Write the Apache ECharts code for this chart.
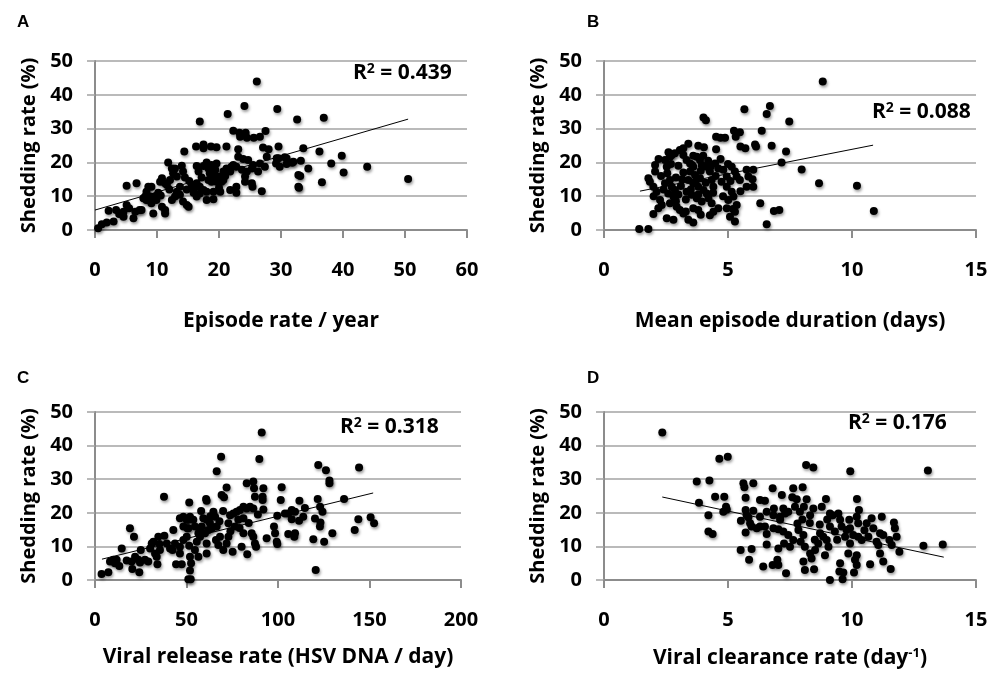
<!DOCTYPE html>
<html>
<head>
<meta charset="utf-8">
<script src="https://cdn.jsdelivr.net/npm/echarts@6/dist/echarts.min.js"></script>
<style>html,body{margin:0;padding:0;background:#fff}#chart{width:991px;height:675px}</style>
</head>
<body>
<div id="chart"></div>
<script>
const chart = echarts.init(document.getElementById('chart'));

// A: episode rate / year vs shedding rate
const pointsA = [
    [0.5,0.5],[1.1,1.7],[1.9,2.2],[3.0,2.5],[2.2,5.7],[3.4,5.9],[3.9,4.7],[4.6,3.9],[4.6,5.4],[5.1,7.4],
    [5.5,6.4],[6.2,3.5],[6.5,5.4],[7.2,5.9],[7.5,5.9],[5.1,13.1],[6.7,13.8],[7.8,9.4],[8.3,8.9],
    [8.6,12.8],[9.1,12.8],[8.3,11.3],[8.1,9.9],[8.9,9.9],[9.7,9.9],[8.6,8.9],[9.9,8.9],[9.1,7.9],[10.8,6.9],
    [11.3,5.9],[9.4,4.9],[11.3,4.9],[10.5,14.3],[10.8,15.3],[11.3,13.8],[10.2,11.0],[10.6,10.2],
    [11.8,20.0],[12.4,18.2],[12.9,18.2],[12.6,16.8],[13.2,15.8],[12.1,14.8],[11.6,13.3],[13.7,12.8],[13.2,11.3],
    [13.7,10.4],[12.9,9.9],[12.4,8.9],[14.2,8.4],[14.8,7.4],[15.1,6.9],[14.0,19.0],[14.2,17.3],[15.2,14.5],
    [15.6,13.3],[14.8,12.0],[15.9,11.0],[14.4,23.2],[12.0,12.0],[14.5,15.5],
    [16.3,24.7],[17.5,25.3],[17.5,24.2],[18.7,24.7],[19.6,24.5],[21.2,24.7],[16.9,32.1],
    [16.4,18.9],[16.7,17.3],[17.5,18.9],[18.3,18.2],[18.8,19.2],[19.6,19.7],[19.4,17.8],[18.5,16.8],[19.1,15.8],
    [19.9,15.8],[18.3,14.8],[18.8,14.3],[19.6,14.3],[20.4,14.3],[20.7,14.8],[16.4,13.8],[16.9,12.8],[15.9,12.3],
    [17.5,11.8],[18.0,11.3],[19.1,11.3],[20.2,11.3],[16.4,9.9],[16.9,10.8],[18.0,8.9],[19.1,9.1],[21.2,18.2],
    [22.0,18.7],[21.8,17.3],[22.3,19.2],[20.7,17.3],[17.2,15.5],[18.0,20.0],[20.0,12.5],[21.0,16.0],
    [22.3,29.4],[23.3,28.8],[24.3,28.8],[23.4,27.6],[24.5,27.3],[25.6,27.3],[26.6,27.6],[27.5,29.3],
    [24.1,36.7],[21.4,34.3],[26.1,43.9],[29.4,35.8],[32.6,32.7],[36.9,33.2],
    [29.6,24.7],[27.1,24.4],[28.0,23.9],[23.1,23.9],
    [23.1,21.7],[23.9,21.0],[24.7,20.7],[25.5,19.2],[26.6,19.7],[27.4,18.7],[22.8,18.7],[23.7,17.8],[24.5,17.3],
    [25.3,18.2],[29.3,21.2],[29.8,18.7],[30.9,21.2],[30.9,19.5],[32.0,20.2],[32.8,16.3],[32.8,12.8],[26.9,11.5],
    [25.3,13.8],[25.4,12.8],[24.2,15.8],[24.2,14.3],[22.8,12.8],[22.8,11.0],[21.8,11.8],[26.3,17.3],[27.7,21.7],
    [29.2,19.7],[29.6,21.2],[30.6,21.5],[31.8,19.9],[33.2,20.5],[34.4,18.2],[33.6,24.2],[36.2,23.2],[39.8,22.0],
    [38.1,19.7],[40.1,17.0],[43.9,18.7],[33.1,16.0],[36.6,14.1],[32.9,12.5],[50.5,15.1]
];
const trendA = [[0, 5.9], [50.5, 32.8]];

// B: mean episode duration vs shedding rate
const pointsB = [
    [1.42,0.3],[1.79,0.3],[2.06,19.2],[2.06,17.3],[1.79,15.3],[1.85,14.3],[1.99,12.8],[2.12,11.3],[2.26,8.9],
    [2.33,7.4],[2.19,6.4],[1.99,4.7],[2.53,3.5],[2.80,3.0],[3.40,3.0],[3.60,2.2],[3.20,4.9],[2.46,20.7],
    [2.66,21.7],[2.86,22.7],[3.06,23.7],[3.20,22.2],[2.53,18.7],[2.55,16.8],[2.66,14.8],[2.46,13.8],[2.73,12.8],
    [2.86,11.8],[2.59,10.8],[2.80,9.9],[2.66,7.9],[2.93,6.9],[3.06,5.9],[3.33,20.7],[3.47,19.7],[3.60,18.7],
    [3.74,21.7],[3.87,20.7],[3.94,19.2],[3.47,17.3],[3.67,16.3],[3.87,15.3],[3.40,14.8],[3.60,13.8],[3.80,12.8],
    [4.01,11.8],[3.33,11.3],[3.53,10.4],[3.74,9.4],[3.94,8.4],[4.14,10.8],[4.21,9.4],[4.34,7.9],[3.60,6.4],
    [3.80,5.9],[4.14,18.7],[4.27,17.3],[4.34,14.8],[4.41,12.8],[4.48,19.7],[4.61,18.2],[4.81,17.8],[4.95,15.8],
    [4.74,14.3],[4.95,12.8],[5.15,11.3],[5.22,9.9],[5.01,8.9],[5.15,18.7],[5.28,17.3],[5.35,15.8],[5.48,14.8],
    [5.75,12.8],[6.02,12.8],[5.75,17.8],[6.02,17.8],[5.82,15.8],[5.99,15.0],[4.61,6.4],[4.95,6.4],[5.28,5.4],
    [5.35,7.4],[5.28,2.5],[5.08,3.9],[4.27,4.4],[4.41,5.4],
    [2.3,16.0],[2.4,12.0],[2.9,15.5],[3.0,19.0],[3.1,13.0],[3.2,17.0],[3.3,9.0],[3.5,12.0],[3.6,22.0],
    [3.7,14.5],[3.9,17.5],[4.0,22.0],[4.1,14.0],[4.2,20.5],[3.0,10.5],[2.9,8.5],[3.8,10.5],[4.4,11.0],
    [4.5,16.0],[2.2,21.0],[2.6,23.0],[3.4,25.5],[3.3,5.5],[3.9,4.5],[2.0,10.0],[4.7,21.0],[5.0,19.5],
    [5.1,14.5],[4.8,10.0],[5.5,11.5],[5.2,6.2],[3.55,19.2],[2.7,19.5],[3.15,15.0],[4.3,18.8],
    [4.01,33.3],[4.11,32.5],[5.66,35.7],[5.24,29.4],[5.48,28.9],[5.31,27.6],[4.52,27.6],[4.70,27.3],[4.88,27.3],
    [3.80,24.9],[4.03,24.5],[3.20,24.2],[5.50,24.7],[5.70,24.2],[6.09,25.3],[6.13,24.7],[4.52,23.9],[2.73,22.2],
    [6.30,7.9],[8.82,43.9],[6.69,36.7],[6.56,34.3],[7.47,32.1],[6.36,29.4],[6.76,24.9],[7.34,23.2],[7.16,20.0],
    [7.97,17.9],[8.67,13.8],[10.20,13.1],[6.85,5.6],[7.07,5.9],[6.56,1.7],[10.88,5.6]
];
const trendB = [[1.45, 11.5], [10.85, 25.1]];

// C: viral release rate vs shedding rate
const pointsC = [
    [3.6,1.8],[7.3,2.3],[8.2,5.5],[10.0,6.0],[11.8,6.0],[13.3,4.2],[10.9,5.0],[14.6,9.4],[17.3,5.8],[20.0,5.5],
    [20.4,3.3],[21.9,6.9],[23.7,6.0],[24.6,5.2],[24.2,2.3],[25.0,8.9],[27.3,6.0],[29.1,5.5],[30.1,9.4],[31.0,10.9],
    [31.9,11.4],[32.8,7.9],[33.7,6.9],[34.6,12.9],[35.2,10.7],[35.5,8.9],[34.1,4.7],[37.9,13.2],[39.2,10.9],
    [41.0,9.4],[42.4,8.9],[42.8,14.9],[43.7,10.9],[44.3,4.7],[46.4,7.9],[47.4,4.7],[48.3,11.9],[50.1,12.9],
    [50.5,15.4],[51.0,17.9],[51.5,10.2],[51.9,6.9],[52.5,5.0],[51.9,2.8],[51.0,0.2],[52.3,0.2],[46.4,9.9],
    [19.1,15.4],[21.3,12.9],[37.7,24.8],[51.5,23.1],[60.7,24.1],[61.0,23.6],
    [46.4,18.4],[48.3,18.8],[50.1,17.9],[51.9,18.8],[48.3,15.9],[51.0,15.4],[53.7,17.9],[54.6,15.9],[56.5,13.9],
    [57.4,14.9],[58.3,15.9],[59.2,18.4],[61.0,17.9],[62.8,16.9],[64.7,20.3],[65.6,18.8],[66.5,15.9],[63.8,15.4],
    [61.9,14.9],[60.1,13.9],[57.4,12.9],[55.6,11.4],[54.6,8.9],[56.5,6.9],[61.0,10.9],[61.0,7.9],[66.1,11.9],
    [67.4,10.4],[68.3,12.9],[70.1,8.9],[71.9,10.9],[72.9,12.9],[72.9,16.9],[73.8,19.3],[75.6,19.8],[77.4,20.3],
    [79.2,20.8],[81.1,21.8],[82.9,21.3],[84.7,21.8],[86.5,21.3],[78.3,17.9],[81.1,18.4],[76.5,15.9],[81.1,13.9],
    [75.2,8.4],[80.1,9.9],[83.2,7.7],[85.6,13.9],[86.5,12.9],[87.4,10.9],[88.0,9.9],[93.8,12.4],
    [58.0,20.5],[63.0,19.0],[68.0,17.5],[70.0,20.5],[74.0,14.5],[79.0,15.5],[84.0,17.0],[89.0,19.5],[92.0,21.0],
    [91.1,43.9],[89.8,36.0],[68.9,36.7],[66.5,32.4],[69.2,25.3],[70.5,24.6],[71.9,27.5],[82.9,28.8],[86.5,29.3],
    [86.9,27.3],[92.0,27.3],[91.6,24.8],[91.6,23.8],[87.4,24.8],
    [122.0,34.2],[126.2,32.7],[128.1,29.6],[128.1,28.8],[144.3,33.5],[102.0,27.6],[101.5,23.8],[111.7,23.6],
    [121.7,24.1],[123.0,21.8],[136.1,24.1],[114.7,21.4],[107.5,20.8],[109.3,20.3],[103.8,19.8],[105.6,19.8],
    [99.6,19.1],[107.5,18.1],[111.5,17.6],[113.8,18.8],[120.2,18.3],[124.3,20.3],[123.2,17.1],[122.9,15.9],
    [97.8,15.9],[98.4,13.9],[105.6,13.7],[109.3,13.9],[108.9,12.9],[99.3,11.4],[99.6,10.7],[119.3,12.1],
    [125.2,11.4],[129.7,13.9],[141.9,14.9],[143.9,18.1],[150.6,18.7],[152.5,16.9],[120.6,3.0]
];
const trendC = [[3.8, 6.2], [152, 25.9]];

// D: viral clearance rate vs shedding rate
const pointsD = [
    [2.35,43.9],[4.65,36.1],[4.99,36.7],[3.74,29.3],[4.25,29.6],[4.48,24.8],[4.85,24.8],[3.83,23.0],[4.92,21.8],
    [4.95,21.0],[4.81,20.3],[4.21,19.3],[4.21,14.4],[4.38,13.7],[5.62,28.8],[5.66,27.6],[6.02,28.8],[5.71,24.5],
    [5.71,20.8],[6.02,20.6],[5.75,19.3],[5.82,18.7],[6.29,18.8],[5.52,17.6],[5.89,16.9],[5.95,15.9],[6.16,15.4],
    [5.71,14.1],[5.51,8.9],[5.95,9.2],[6.56,10.6],[5.85,6.0],[7.10,17.9],
    [8.15,34.2],[8.44,33.5],[9.93,32.4],[13.06,32.6],[6.80,27.3],[7.17,25.3],[7.63,27.3],[8.01,27.6],[7.59,24.6],
    [7.77,24.0],[8.17,24.0],[8.95,24.1],[10.20,24.1],[6.29,23.8],[6.49,23.6],
    [6.85,21.3],[6.56,20.3],[6.83,19.3],[7.10,18.8],[7.30,19.8],[7.43,20.3],[7.23,21.3],[7.70,21.8],[8.06,21.8],
    [7.90,20.3],[8.31,19.3],[8.44,21.3],[8.78,21.8],[9.11,19.8],[9.22,19.3],[9.45,19.8],[9.52,17.9],[9.89,17.9],
    [10.28,20.8],[10.19,18.8],[10.25,16.9],[10.59,16.9],[10.79,18.4],[11.20,18.8],[10.86,15.4],[11.13,13.9],
    [11.26,13.4],[11.73,15.4],[11.80,12.9],[11.69,17.1],
    [6.29,15.9],[6.49,15.9],[6.56,13.7],[6.83,15.4],[7.03,15.1],[7.23,14.4],[7.43,13.4],[7.63,11.9],[7.26,10.9],
    [7.03,9.4],[7.50,9.9],[7.84,14.9],[8.04,13.4],[7.93,11.4],[8.10,9.9],[8.31,7.9],[8.37,6.4],[8.51,8.9],
    [8.64,10.9],[8.71,13.9],[8.84,12.9],[8.98,11.9],[9.05,9.9],[8.91,7.4],[9.11,15.9],[9.31,14.4],[9.58,15.9],
    [9.78,14.9],[9.92,15.4],[10.05,13.4],[9.72,12.9],[9.92,10.9],[10.25,12.9],[10.39,11.9],[10.66,12.9],
    [10.99,11.4],[11.06,10.4],[11.13,7.9],[11.51,11.9],[11.60,10.4],[11.91,8.4],[12.88,10.2],[13.66,10.6],
    [8.3,17.0],[8.7,16.5],[8.0,18.0],[9.4,12.0],[8.5,12.0],[7.8,16.8],[9.0,18.0],[10.5,14.8],
    [6.42,4.0],[6.80,4.5],[6.99,6.0],[7.03,4.5],[7.34,2.0],[8.04,5.5],[8.10,3.0],[8.47,3.2],[9.11,0.0],[9.62,0.2],
    [9.52,5.0],[9.49,2.5],[9.65,2.2],[10.12,6.0],[10.19,4.5],[10.08,2.2],[10.73,4.7],[11.26,5.5],[11.56,3.3],
    [9.85,7.9],[10.19,7.4]
];
const trendD = [[2.35, 24.7], [13.7, 6.8]];

const yTicks = [0, 50, 10];

const rSquared = ['0.439', '0.088', '0.318', '0.176'];
const panelLetters = ['A', 'B', 'C', 'D'];
const xNames = ['Episode rate / year', 'Mean episode duration (days)',
    'Viral release rate (HSV DNA / day)', 'Viral clearance rate (day{sup|-1})'];
const xRanges = [[0, 60, 10], [0, 15, 5], [0, 200, 50], [0, 15, 5]];

var labelFont = 'Open Sans';
var gridColor = '#a3a3a3';
var axisColor = '#8c8c8c';

var grids = [
    {left: 95, top: 61, width: 372, height: 169},
    {left: 604, top: 61, width: 372, height: 169},
    {left: 95, top: 412, width: 366, height: 168},
    {left: 604, top: 412, width: 372, height: 168}
];
var nameGaps = [81, 81, 67, 67];

var xAxes = [], yAxes = [];
xRanges.forEach(function (r, i) {
    xAxes.push({
        gridIndex: i,
        type: 'value',
        min: r[0], max: r[1], interval: r[2],
        name: xNames[i],
        nameLocation: 'middle',
        nameGap: nameGaps[i],
        nameTextStyle: {
            color: '#000', fontFamily: labelFont, fontWeight: 'bold', fontSize: 21,
            rich: {sup: {fontSize: 13, fontWeight: 'bold', fontFamily: labelFont, color: '#000', padding: [0, 0, 10, 0]}}
        },
        axisLine: {show: true, onZero: false, lineStyle: {color: axisColor, width: 2}},
        axisTick: {show: true, length: 8, lineStyle: {color: axisColor, width: 2}},
        axisLabel: {margin: 30, color: '#000', fontFamily: labelFont, fontWeight: 'bold', fontSize: 20},
        splitLine: {show: false}
    });
    yAxes.push({
        gridIndex: i,
        type: 'value',
        min: yTicks[0], max: yTicks[1], interval: yTicks[2],
        name: 'Shedding rate (%)',
        nameLocation: 'middle',
        nameGap: 56,
        nameTextStyle: {color: '#000', fontFamily: labelFont, fontWeight: 'bold', fontSize: 20},
        axisLine: {show: true, lineStyle: {color: axisColor, width: 2}},
        axisTick: {show: true, length: 8, lineStyle: {color: gridColor, width: 1.5}},
        axisLabel: {margin: 22, color: '#000', fontFamily: labelFont, fontWeight: 'bold', fontSize: 20},
        splitLine: {show: true, lineStyle: {color: gridColor, width: 1.5}}
    });
});

var allPoints = [pointsA, pointsB, pointsC, pointsD];
var trends = [trendA, trendB, trendC, trendD];
var series = [];
allPoints.forEach(function (pts, i) {
    series.push({
        type: 'scatter',
        xAxisIndex: i, yAxisIndex: i,
        symbolSize: 8,
        data: pts,
        itemStyle: {color: '#000', opacity: 1, shadowColor: 'rgba(0,0,0,0.4)', shadowBlur: 3, shadowOffsetX: 1, shadowOffsetY: 2},
        z: 3
    });
    series.push({
        type: 'line',
        xAxisIndex: i, yAxisIndex: i,
        data: trends[i],
        showSymbol: false,
        lineStyle: {color: '#000', width: 1},
        z: 4
    });
});

// R² and panel letters
var rPos = [[353, 62], [872, 101], [340, 416], [848, 412]];
var letterPos = [[17, 14], [587, 14], [17, 370], [587, 370]];
var graphics = [];
rSquared.forEach(function (r, i) {
    graphics.push({
        type: 'text', left: rPos[i][0], top: rPos[i][1],
        style: {
            text: 'R{sup|2} = ' + r, fill: '#000', font: 'bold 21px "Open Sans"',
            rich: {sup: {font: 'bold 14px "Open Sans"', fill: '#000', padding: [0, 0, 8, 0]}}
        }
    });
    graphics.push({
        type: 'text', left: letterPos[i][0], top: letterPos[i][1],
        style: {text: panelLetters[i], fill: '#000', font: 'bold 17px "Liberation Sans"'}
    });
});

chart.setOption({
    backgroundColor: '#fff',
    animation: false,
    grid: grids,
    xAxis: xAxes,
    yAxis: yAxes,
    series: series,
    graphic: graphics
});
</script>
</body>
</html>
